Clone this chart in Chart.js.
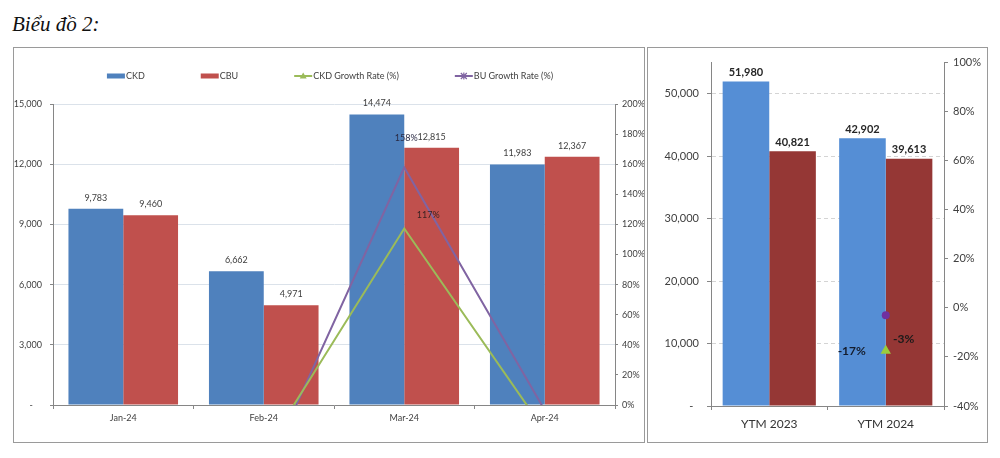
<!DOCTYPE html>
<html><head><meta charset="utf-8">
<script src="https://cdn.jsdelivr.net/npm/chart.js@4"></script>
<style>
html,body{margin:0;padding:0;background:#fff;width:1000px;height:458px;overflow:hidden;}
#title{position:absolute;left:12px;top:12px;font:italic 21px "Liberation Serif",serif;color:#111;white-space:nowrap;}
.box{position:absolute;border:1px solid #9a9a9a;box-sizing:border-box;}
#b1{left:13px;top:47px;width:632px;height:396px;}
#b2{left:647px;top:47px;width:341px;height:396px;}
canvas{display:block;}
</style></head><body>
<div id="title">Biểu đồ 2:</div>
<div class="box" id="b1"><canvas id="c1" width="630" height="394"></canvas></div>
<div class="box" id="b2"><canvas id="c2" width="339" height="394"></canvas></div>
<script>
// ---- data ----
const monthLabels = ['Jan-24', 'Feb-24', 'Mar-24', 'Apr-24'];
const ckdMonthly = [9783, 6662, 14474, 11983];
const cbuMonthly = [9460, 4971, 12815, 12367];
const ckdGrowthMonthly = [null, -31.9, 117.3, -17.2];
const buGrowthMonthly = [null, -47.5, 157.8, -3.5];
const seriesNames = ['CKD', 'CBU', 'CKD Growth Rate (%)', 'BU Growth Rate (%)'];

const ytdLabels = ['YTM 2023', 'YTM 2024'];
const ckdYtd = [51980, 42902];
const cbuYtd = [40821, 39613];
const ckdGrowthYtd = [null, -17.5];
const buGrowthYtd = [null, -3.0];

// ---- helpers ----
const FONT = 'Lato';
const AXIS = '#868686';
const TXT = '#404040';
const numFmt = v => v.toLocaleString('en-US');
const pctFmt = v => Math.round(v) + '%';
const isMajor = v => Math.abs(v % 10000) < 1e-6;

const valueLabels = {
  id: 'valueLabels',
  afterDatasetsDraw(chart) {
    const ctx = chart.ctx, area = chart.chartArea;
    chart.data.datasets.forEach((ds, i) => {
      const lo = ds.valueLabel; if (!lo) return;
      const meta = chart.getDatasetMeta(i);
      meta.data.forEach((el, j) => {
        const v = ds.data[j]; if (v == null) return;
        if (el.y < area.top - 1 || el.y > area.bottom + 1) return;
        ctx.save();
        ctx.font = lo.font; ctx.fillStyle = lo.color;
        ctx.textAlign = 'center'; ctx.textBaseline = 'middle';
        ctx.fillText(lo.fmt(v), el.x + (lo.dx || 0), el.y + (lo.dy || 0));
        ctx.restore();
      });
    });
  }
};

const customLegend = {
  id: 'customLegend',
  afterDraw(chart, args, opts) {
    if (!opts || !opts.show) return;
    const ctx = chart.ctx;
    ctx.save();
    ctx.font = opts.font; ctx.textBaseline = 'middle'; ctx.fillStyle = TXT;
    const items = chart.data.datasets.map(ds => ({
      text: ds.label, color: ds.type === 'line' ? ds.borderColor : ds.backgroundColor,
      kind: ds.type === 'line' ? 'line' : 'bar', marker: ds.legendMarker
    }));
    const sw = 18, gap = 1, sp = opts.spacing;
    const widths = items.map(it => sw + gap + ctx.measureText(it.text).width);
    const total = widths.reduce((a, b) => a + b, 0) + sp * (items.length - 1);
    let x = opts.centerX - total / 2;
    const y = opts.y;
    items.forEach((it, k) => {
      if (it.kind === 'bar') {
        ctx.fillStyle = it.color; ctx.fillRect(x, y - 2.5, sw, 5);
      } else {
        ctx.strokeStyle = it.color; ctx.lineWidth = 2;
        ctx.beginPath(); ctx.moveTo(x, y); ctx.lineTo(x + sw, y); ctx.stroke();
        const mx = x + sw / 2;
        ctx.fillStyle = it.color; ctx.lineWidth = 1.2;
        if (it.marker === 'triangle') {
          ctx.beginPath(); ctx.moveTo(mx, y - 3.5); ctx.lineTo(mx + 3.5, y + 2.5); ctx.lineTo(mx - 3.5, y + 2.5); ctx.closePath(); ctx.fill();
        } else {
          ctx.beginPath();
          ctx.moveTo(mx - 3, y - 3); ctx.lineTo(mx + 3, y + 3);
          ctx.moveTo(mx - 3, y + 3); ctx.lineTo(mx + 3, y - 3);
          ctx.moveTo(mx, y - 3.5); ctx.lineTo(mx, y + 3.5);
          ctx.stroke();
        }
      }
      ctx.fillStyle = TXT;
      ctx.fillText(it.text, x + sw + gap, y + 0.5);
      x += widths[k] + sp;
    });
    ctx.restore();
  }
};

// ---- left chart ----
const f9 = { family: FONT, size: 9 };
new Chart(document.getElementById('c1'), {
  data: {
    labels: monthLabels,
    datasets: [
      { type: 'bar', label: seriesNames[0], data: ckdMonthly, backgroundColor: '#4F81BD', yAxisID: 'y', order: 1,
        categoryPercentage: 0.78, barPercentage: 1.0,
        valueLabel: { font: '9px ' + FONT, color: TXT, dy: -11, fmt: numFmt } },
      { type: 'bar', label: seriesNames[1], data: cbuMonthly, backgroundColor: '#C0504D', yAxisID: 'y', order: 1,
        categoryPercentage: 0.78, barPercentage: 1.0,
        valueLabel: { font: '9px ' + FONT, color: TXT, dy: -11, fmt: numFmt } },
      { type: 'line', label: seriesNames[2], data: ckdGrowthMonthly, borderColor: '#9BBB59', backgroundColor: '#9BBB59',
        borderWidth: 2, pointRadius: 0, tension: 0, yAxisID: 'y1', order: 0, legendMarker: 'triangle',
        valueLabel: { font: '9px ' + FONT, color: '#3a2222', dx: 24, dy: -13, fmt: pctFmt } },
      { type: 'line', label: seriesNames[3], data: buGrowthMonthly, borderColor: '#8064A2', backgroundColor: '#8064A2',
        borderWidth: 2, pointRadius: 0, tension: 0, yAxisID: 'y1', order: 0, legendMarker: 'star',
        valueLabel: { font: '9px ' + FONT, color: '#2a2a44', dx: 2, dy: -29, fmt: pctFmt } }
    ]
  },
  options: {
    responsive: false, animation: false, devicePixelRatio: 1,
    layout: { padding: { top: 56, left: 0, right: 0, bottom: 0 } },
    plugins: {
      legend: { display: false }, tooltip: { enabled: false },
      customLegend: { show: true, font: '9px ' + FONT, spacing: 56, centerX: 316, y: 28 }
    },
    scales: {
      x: {
        type: 'category', offset: true,
        grid: { display: true, drawOnChartArea: false, drawTicks: true, tickLength: 4, offset: true, color: AXIS },
        border: { color: AXIS },
        ticks: { font: f9, color: TXT, padding: 4 },
        afterFit: s => { s.height = 37; }
      },
      y: {
        position: 'left', min: 0, max: 15000,
        ticks: { stepSize: 3000, font: f9, color: TXT, padding: 8,
          callback: v => v === 0 ? '-    ' : numFmt(v) },
        grid: { color: '#dbe2ea', tickColor: AXIS, tickLength: 3 },
        border: { color: AXIS },
        afterFit: s => { s.width = 39; }
      },
      y1: {
        position: 'right', min: 0, max: 200,
        ticks: { stepSize: 20, font: f9, color: TXT, padding: 4, callback: v => v + '%' },
        grid: { drawOnChartArea: false, tickColor: AXIS, tickLength: 3 },
        border: { color: AXIS },
        afterFit: s => { s.width = 29; }
      }
    }
  },
  plugins: [valueLabels, customLegend]
});

// ---- right chart ----
const f11 = { family: FONT, size: 11 };
new Chart(document.getElementById('c2'), {
  data: {
    labels: ytdLabels,
    datasets: [
      { type: 'bar', label: seriesNames[0], data: ckdYtd, backgroundColor: '#558ED5', yAxisID: 'y', order: 1,
        categoryPercentage: 0.8, barPercentage: 1.0,
        valueLabel: { font: 'bold 11px ' + FONT, color: '#262626', dy: -9, fmt: numFmt } },
      { type: 'bar', label: seriesNames[1], data: cbuYtd, backgroundColor: '#953735', yAxisID: 'y', order: 1,
        categoryPercentage: 0.8, barPercentage: 1.0,
        valueLabel: { font: 'bold 11px ' + FONT, color: '#262626', dy: -9, fmt: numFmt } },
      { type: 'line', label: seriesNames[2], data: ckdGrowthYtd, showLine: false, borderColor: '#9ACD3C', backgroundColor: '#9ACD3C',
        pointStyle: 'triangle', pointRadius: 6, pointBorderWidth: 0, yAxisID: 'y1', order: 0,
        valueLabel: { font: 'bold 12px ' + FONT, color: '#141c2c', dx: -34, dy: 0, fmt: pctFmt } },
      { type: 'line', label: seriesNames[3], data: buGrowthYtd, showLine: false, borderColor: '#7030A0', backgroundColor: '#7030A0',
        pointStyle: 'circle', pointRadius: 4, pointBorderWidth: 0, yAxisID: 'y1', order: 0,
        valueLabel: { font: 'bold 12px ' + FONT, color: '#1a1a1a', dx: 18, dy: 24, fmt: pctFmt } }
    ]
  },
  options: {
    responsive: false, animation: false, devicePixelRatio: 1,
    layout: { padding: { top: 9, left: 0, right: 0, bottom: 0 } },
    plugins: { legend: { display: false }, tooltip: { enabled: false } },
    scales: {
      x: {
        type: 'category', offset: true,
        grid: { display: true, drawOnChartArea: false, drawTicks: true, tickLength: 4, offset: true, color: AXIS },
        border: { color: AXIS },
        ticks: { font: { family: FONT, size: 12 }, color: '#333', padding: 7 },
        afterFit: s => { s.height = 36; }
      },
      y: {
        position: 'left', min: 0, max: 55000,
        ticks: { stepSize: 5000, maxTicksLimit: 30, font: f11, color: TXT, padding: 8, autoSkip: false,
          callback: v => isMajor(v) ? (v === 0 ? '-  ' : numFmt(v)) : '' },
        grid: {
          color: c => (c.tick && isMajor(c.tick.value)) ? '#d4d4d4' : 'rgba(0,0,0,0)',
          tickColor: c => (c.tick && isMajor(c.tick.value)) ? AXIS : 'rgba(0,0,0,0)',
          tickLength: 4
        },
        border: { color: AXIS, dash: [4, 3] },
        afterFit: s => { s.width = 63; }
      },
      y1: {
        position: 'right', min: -40, max: 100,
        ticks: { stepSize: 20, font: f11, color: TXT, padding: 5, callback: v => v + '%' },
        grid: { drawOnChartArea: false, tickColor: AXIS, tickLength: 4 },
        border: { color: AXIS },
        afterFit: s => { s.width = 43; }
      }
    }
  },
  plugins: [valueLabels]
});
</script>
</body></html>
